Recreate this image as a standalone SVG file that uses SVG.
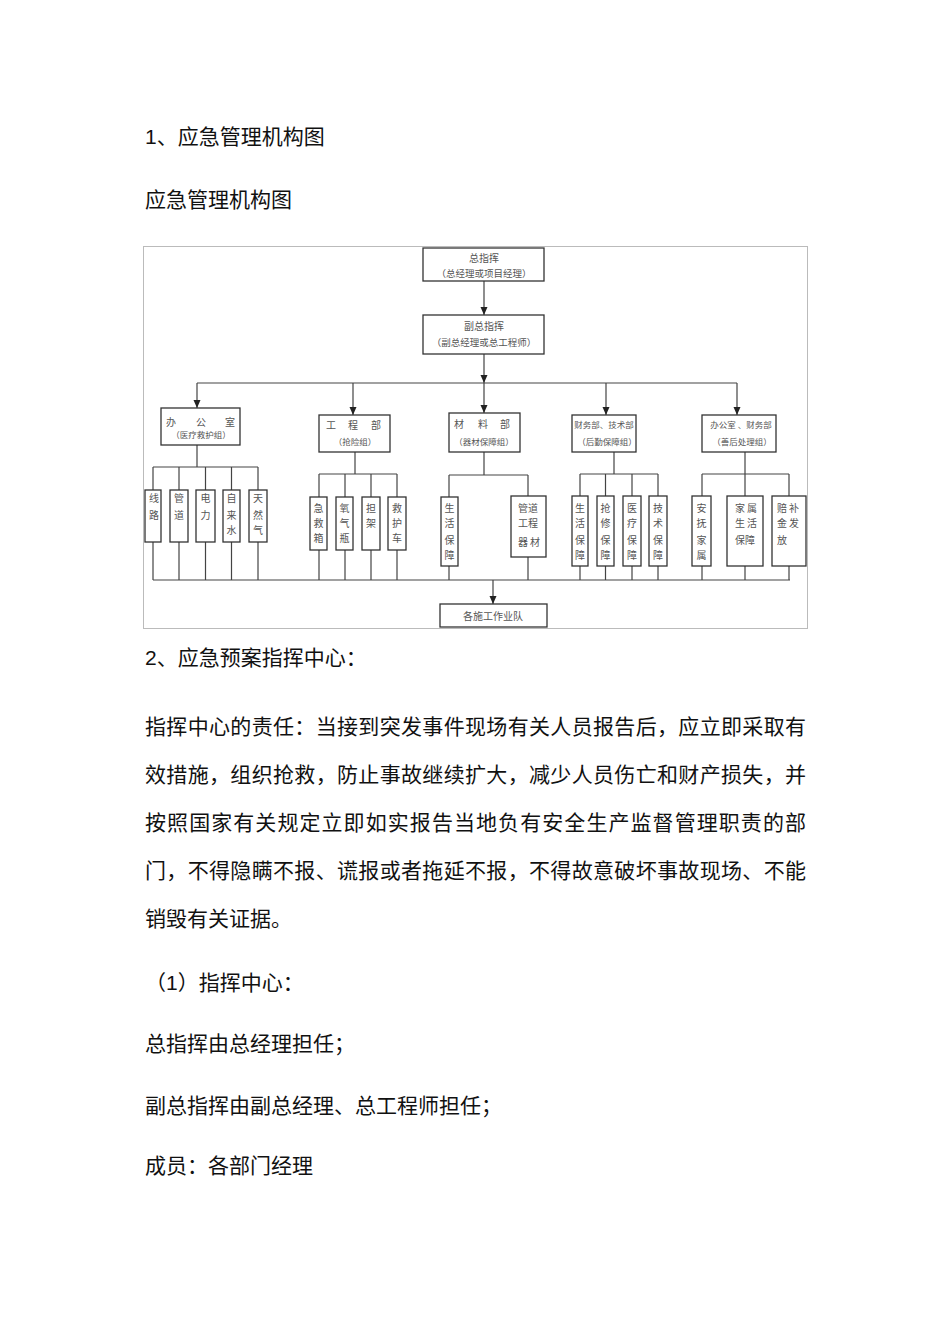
<svg xmlns="http://www.w3.org/2000/svg" width="950" height="1344" viewBox="0 0 950 1344">
<style>
.pg{font-family:"Liberation Sans","Noto Sans CJK SC",sans-serif;font-size:21px;fill:#111}
.bx{fill:#fff;stroke:#333;stroke-width:1.3}
.t{font-family:"Noto Sans CJK SC",sans-serif;font-size:9.5px;fill:#555;text-anchor:middle}
.s{font-family:"Noto Sans CJK SC",sans-serif;font-size:10px;fill:#555;text-anchor:middle}
.ln{fill:none;stroke:#444;stroke-width:1.2}
</style>
<defs>
<marker id="ah" markerUnits="userSpaceOnUse" markerWidth="8" markerHeight="8" refX="8" refY="4" orient="auto">
<path d="M0,0.5 L8,4 L0,7.5 z" fill="#222"/>
</marker>
</defs>
<rect width="950" height="1344" fill="#fff"/>

<g id="page-text">
<text class="pg" x="145" y="144">1、应急管理机构图</text>
<text class="pg" x="145" y="207">应急管理机构图</text>
<text class="pg" x="145" y="665">2、应急预案指挥中心：</text>
<text class="pg" x="145" y="734" textLength="661" lengthAdjust="spacing">指挥中心的责任：当接到突发事件现场有关人员报告后，应立即采取有</text>
<text class="pg" x="145" y="782" textLength="661" lengthAdjust="spacing">效措施，组织抢救，防止事故继续扩大，减少人员伤亡和财产损失，并</text>
<text class="pg" x="145" y="830" textLength="661" lengthAdjust="spacing">按照国家有关规定立即如实报告当地负有安全生产监督管理职责的部</text>
<text class="pg" x="145" y="878" textLength="661" lengthAdjust="spacing">门，不得隐瞒不报、谎报或者拖延不报，不得故意破坏事故现场、不能</text>
<text class="pg" x="145" y="926">销毁有关证据。</text>
<text class="pg" x="145" y="990">（1）指挥中心：</text>
<text class="pg" x="145" y="1051">总指挥由总经理担任；</text>
<text class="pg" x="145" y="1113">副总指挥由副总经理、总工程师担任；</text>
<text class="pg" x="145" y="1173">成员：各部门经理</text>
</g>

<rect id="frame" x="143.5" y="246.5" width="664" height="382" fill="none" stroke="#bbb" stroke-width="1"/>

<g id="connectors">
<path class="ln" d="M484,281 V315" marker-end="url(#ah)"/>
<path class="ln" d="M484,354 V383" marker-end="url(#ah)"/>
<path class="ln" d="M197,383 H737"/>
<path class="ln" d="M197,383 V408" marker-end="url(#ah)"/>
<path class="ln" d="M353,383 V415" marker-end="url(#ah)"/>
<path class="ln" d="M484,383 V413" marker-end="url(#ah)"/>
<path class="ln" d="M606,383 V415" marker-end="url(#ah)"/>
<path class="ln" d="M737,383 V415" marker-end="url(#ah)"/>
<path class="ln" d="M197,445 V467 M153,467 H258 M153,467 V490 M179,467 V490 M205.5,467 V490 M231.5,467 V490 M258,467 V490"/>
<path class="ln" d="M355,452 V474 M319,474 H397 M319,474 V497 M345,474 V497 M371,474 V497 M397,474 V497"/>
<path class="ln" d="M484,452 V475 M449,475 H528 M449,475 V497 M528,475 V496"/>
<path class="ln" d="M614,452 V474 M580,474 H658 M580,474 V496 M605.5,474 V496 M632,474 V496 M658,474 V496"/>
<path class="ln" d="M745,452 V474 M702,474 H789 M702,474 V496 M745,474 V496 M789,474 V496"/>
<path class="ln" d="M153,542 V580 M179,542 V580 M205.5,542 V580 M231.5,542 V580 M258,542 V580"/>
<path class="ln" d="M319,550 V580 M345,550 V580 M371,550 V580 M397,550 V580"/>
<path class="ln" d="M449,566 V580 M528,557 V580"/>
<path class="ln" d="M580,566 V580 M605.5,566 V580 M632,566 V580 M658,566 V580"/>
<path class="ln" d="M702,566 V580 M745,566 V580 M789,566 V580"/>
<path class="ln" d="M153,580 H790"/>
<path class="ln" d="M493,580 V604" marker-end="url(#ah)"/>
</g>

<g id="n-zongzhihui">
<rect class="bx" x="423" y="248" width="121" height="33"/>
<text class="t" x="484" y="262" style="font-size:10px">总指挥</text>
<text class="t" x="484" y="277">（总经理或项目经理）</text>
</g>
<g id="n-fuzongzhihui">
<rect class="bx" x="423" y="315" width="121" height="39"/>
<text class="t" x="484" y="330" style="font-size:10px">副总指挥</text>
<text class="t" x="484" y="346">（副总经理或总工程师）</text>
</g>

<g id="n-bangongshi">
<rect class="bx" x="161" y="408" width="79" height="37"/>
<text class="t" x="171 201 230" y="426" style="font-size:10px">办公室</text>
<text class="t" x="201" y="438" style="font-size:8.5px">（医疗救护组）</text>
</g>
<g id="n-gongchengbu">
<rect class="bx" x="319" y="415" width="71" height="37"/>
<text class="t" x="331 353 376" y="429" style="font-size:10px">工程部</text>
<text class="t" x="355" y="445" style="font-size:8.5px">（抢险组）</text>
</g>
<g id="n-cailiaobu">
<rect class="bx" x="449" y="413" width="71" height="39"/>
<text class="t" x="459 483 505" y="428" style="font-size:10px">材料部</text>
<text class="t" x="484" y="445" style="font-size:8.5px">（器材保障组）</text>
</g>
<g id="n-caiwubu">
<rect class="bx" x="572" y="415" width="64" height="37"/>
<text class="t" x="604" y="428" style="font-size:8.5px">财务部、技术部</text>
<text class="t" x="607" y="445" style="font-size:8.5px">（后勤保障组）</text>
</g>
<g id="n-shanhou">
<rect class="bx" x="702" y="415" width="74" height="37"/>
<text class="t" x="741" y="428" style="font-size:8.5px">办公室 、财务部</text>
<text class="t" x="742" y="445" style="font-size:8.5px">（善后处理组）</text>
</g>

<g id="n-xianlu">
<rect class="bx" x="145" y="490" width="16" height="52"/>
<text class="s" x="154" y="502">线</text><text class="s" x="154" y="519">路</text>
</g>
<g id="n-guandao">
<rect class="bx" x="170" y="490" width="18" height="52"/>
<text class="s" x="179" y="502">管</text><text class="s" x="179" y="519">道</text>
</g>
<g id="n-dianli">
<rect class="bx" x="196" y="490" width="19" height="52"/>
<text class="s" x="205.5" y="502">电</text><text class="s" x="205.5" y="519">力</text>
</g>
<g id="n-zilaishui">
<rect class="bx" x="223" y="490" width="17" height="52"/>
<text class="s" x="231.5" y="502">自</text><text class="s" x="231.5" y="519">来</text><text class="s" x="231.5" y="534">水</text>
</g>
<g id="n-tianranqi">
<rect class="bx" x="249" y="490" width="18" height="52"/>
<text class="s" x="258" y="502">天</text><text class="s" x="258" y="519">然</text><text class="s" x="258" y="534">气</text>
</g>

<g id="n-jijiuxiang">
<rect class="bx" x="310" y="497" width="17" height="53"/>
<text class="s" x="318.5" y="512">急</text><text class="s" x="318.5" y="527">救</text><text class="s" x="318.5" y="542">箱</text>
</g>
<g id="n-yangqiping">
<rect class="bx" x="336" y="497" width="17" height="53"/>
<text class="s" x="344.5" y="512">氧</text><text class="s" x="344.5" y="527">气</text><text class="s" x="344.5" y="542">瓶</text>
</g>
<g id="n-danjia">
<rect class="bx" x="362" y="497" width="18" height="53"/>
<text class="s" x="371" y="512">担</text><text class="s" x="371" y="527">架</text>
</g>
<g id="n-jiuhuche">
<rect class="bx" x="388" y="497" width="18" height="53"/>
<text class="s" x="397" y="512">救</text><text class="s" x="397" y="527">护</text><text class="s" x="397" y="542">车</text>
</g>

<g id="n-shenghuo1">
<rect class="bx" x="441" y="497" width="17" height="69"/>
<text class="s" x="449.5" y="512">生</text><text class="s" x="449.5" y="527">活</text><text class="s" x="449.5" y="544">保</text><text class="s" x="449.5" y="559">障</text>
</g>
<g id="n-guandaoqicai">
<rect class="bx" x="511" y="496" width="35" height="61"/>
<text class="s" x="528" y="512">管道</text><text class="s" x="528" y="527">工程</text><text class="s" x="529" y="546">器 材</text>
</g>

<g id="n-shenghuo2">
<rect class="bx" x="572" y="496" width="16" height="70"/>
<text class="s" x="580" y="512">生</text><text class="s" x="580" y="527">活</text><text class="s" x="580" y="544">保</text><text class="s" x="580" y="559">障</text>
</g>
<g id="n-qiangxiu">
<rect class="bx" x="597" y="496" width="17" height="70"/>
<text class="s" x="605.5" y="512">抢</text><text class="s" x="605.5" y="527">修</text><text class="s" x="605.5" y="544">保</text><text class="s" x="605.5" y="559">障</text>
</g>
<g id="n-yiliao">
<rect class="bx" x="623" y="496" width="18" height="70"/>
<text class="s" x="632" y="512">医</text><text class="s" x="632" y="527">疗</text><text class="s" x="632" y="544">保</text><text class="s" x="632" y="559">障</text>
</g>
<g id="n-jishu">
<rect class="bx" x="649" y="496" width="18" height="70"/>
<text class="s" x="658" y="512">技</text><text class="s" x="658" y="527">术</text><text class="s" x="658" y="544">保</text><text class="s" x="658" y="559">障</text>
</g>

<g id="n-anfu">
<rect class="bx" x="692" y="496" width="19" height="70"/>
<text class="s" x="701.5" y="512">安</text><text class="s" x="701.5" y="527">抚</text><text class="s" x="701.5" y="544">家</text><text class="s" x="701.5" y="559">属</text>
</g>
<g id="n-jiashu">
<rect class="bx" x="727" y="496" width="36" height="70"/>
<text class="s" x="746" y="512">家 属</text><text class="s" x="746" y="527">生 活</text><text class="s" x="745" y="544">保障</text>
</g>
<g id="n-peibu">
<rect class="bx" x="772" y="496" width="34" height="70"/>
<text class="s" x="788" y="512">赔 补</text><text class="s" x="788" y="527">金 发</text><text class="s" x="782" y="544">放</text>
</g>

<g id="n-shigongdui">
<rect class="bx" x="440" y="604" width="107" height="23"/>
<text class="s" x="493" y="620">各施工作业队</text>
</g>
</svg>
